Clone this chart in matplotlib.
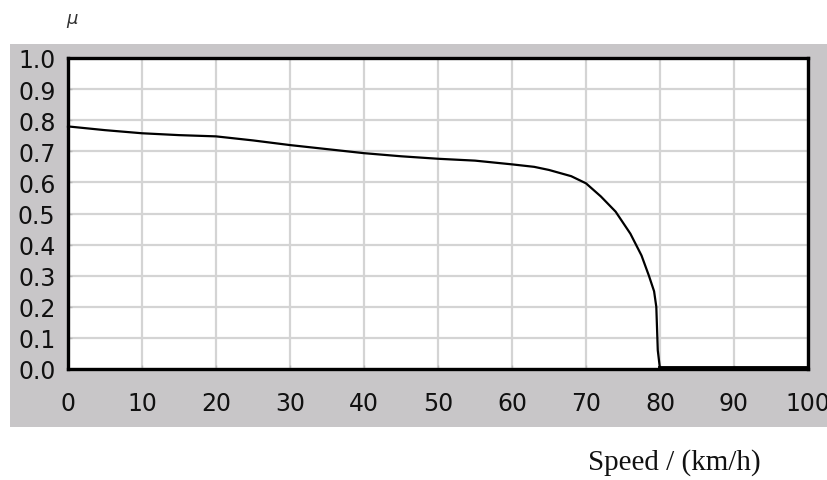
import matplotlib
matplotlib.use("Agg")
import matplotlib.pyplot as plt

speed = [0, 5, 10, 15, 20, 25, 30, 35, 40, 45, 50, 55, 60, 63, 65, 68, 70, 72,
         74, 76, 77.5, 78.5, 79.2, 79.5, 79.7, 80, 100]
mu = [0.78, 0.768, 0.758, 0.752, 0.748, 0.735, 0.72, 0.707, 0.694, 0.684,
      0.676, 0.67, 0.658, 0.65, 0.64, 0.62, 0.597, 0.555, 0.506, 0.435,
      0.365, 0.30, 0.25, 0.20, 0.06, 0.0, 0.0]

xticks = [0, 10, 20, 30, 40, 50, 60, 70, 80, 90, 100]
yticks = [0.0, 0.1, 0.2, 0.3, 0.4, 0.5, 0.6, 0.7, 0.8, 0.9, 1.0]

W, H = 827, 481
fig = plt.figure(figsize=(W / 100, H / 100), dpi=100)

bg = fig.add_axes([10 / W, (H - 428) / H, 1 - 10 / W, (428 - 45) / H])
bg.set_facecolor("#c8c6c8")
bg.set_xticks([])
bg.set_yticks([])
for s in bg.spines.values():
    s.set_visible(False)
bg.set_zorder(0)

ax = fig.add_axes([68 / W, (H - 370) / H, (808 - 68) / W, (370 - 59) / H])
ax.set_zorder(1)
ax.set_facecolor("white")
ax.set_xlim(0, 99.6)
ax.set_ylim(0, 1.0)
ax.set_xticks(xticks)
ax.set_yticks(yticks)
tick_font = dict(family=["Liberation Sans Narrow", "DejaVu Sans"], size=17,
                 color="#111111")
ax.set_xticklabels([str(t) for t in xticks], **tick_font)
ax.set_yticklabels([f"{t:.1f}" for t in yticks], **tick_font)
for lab in ax.get_xticklabels():
    lab.set_clip_on(False)
ax.grid(True, color="#d4d4d4", linewidth=1.6)
ax.set_axisbelow(True)
ax.tick_params(axis="both", direction="in", length=3, width=1, color="#bbbbbb")
ax.tick_params(axis="x", pad=16)
ax.tick_params(axis="y", pad=9)
for s in ax.spines.values():
    s.set_linewidth(2.4)
    s.set_color("black")

ax.plot(speed, mu, color="black", linewidth=1.6, clip_on=False, zorder=3)
ax.plot([80, 99.6], [0.003, 0.003], color="black", linewidth=3.5, clip_on=False, zorder=4)

fig.text(72 / W, 1 - 19 / H, "μ", fontsize=13, style="italic", color="#333333",
         ha="center", va="center")
fig.text(674 / W, 1 - 463 / H, "Speed / (km/h)", fontsize=21,
         family="Liberation Serif", ha="center", va="center", color="#111111")

fig.savefig("out.png", dpi=100)
